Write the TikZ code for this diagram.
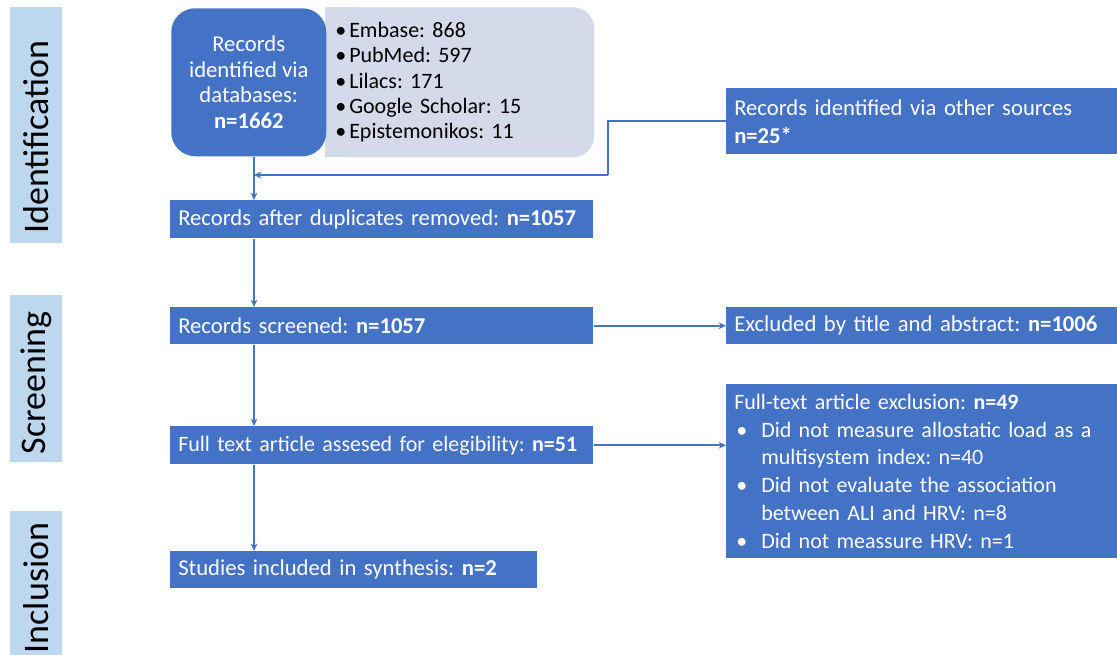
\documentclass[tikz,border=0pt]{standalone}
\usepackage{fontspec}
\setmainfont{Carlito}
\usetikzlibrary{arrows.meta}
\definecolor{prismablue}{HTML}{4472C4}
\definecolor{phaseblue}{HTML}{BDD7EE}
\definecolor{listgrey}{HTML}{D5DAEB}
\frenchspacing

\begin{document}
\begin{tikzpicture}[x=0.75pt,y=-0.75pt]
\tikzstyle{phase}=[fill=phaseblue]
\tikzstyle{phaselabel}=[rotate=90, inner sep=0pt, font=\fontsize{27}{30}\selectfont]
\tikzstyle{bluebox}=[fill=prismablue, text=white, anchor=north west, align=left, inner xsep=6pt, inner ysep=0pt, font=\fontsize{17}{21}\selectfont]
\tikzstyle{flow}=[draw=prismablue, line width=1.5pt, -{Stealth[length=5.5pt,width=5pt]}]
\useasboundingbox (0,0) rectangle (1117,655);

% phase bars
\fill[phase] (10,7) rectangle (62,243);
\fill[phase] (10,295) rectangle (62,462);
\fill[phase] (10,511) rectangle (62,655);
\node[phaselabel] (identlab) at (36,137) {Identification};
\node[phaselabel] (screenlab) at (36,383) {Screening};
\node[phaselabel] (incllab) at (36,588) {Inclusion};

% identification
\fill[listgrey] (325,7) rectangle (360,157);
\node[fill=listgrey, rounded corners=16pt, anchor=north west, align=left, inner xsep=7.5pt, inner ysep=0pt,
      minimum height=112.5pt, text width=186.75pt, font=\fontsize{16.5}{19}\selectfont] (dblist) at (325,7)
  {\makebox[10.5pt][l]{\textbullet}Embase: 868\\
   \makebox[10.5pt][l]{\textbullet}PubMed: 597\\
   \makebox[10.5pt][l]{\textbullet}Lilacs: 171\\
   \makebox[10.5pt][l]{\textbullet}Google Scholar: 15\\
   \makebox[10.5pt][l]{\textbullet}Epistemonikos: 11};
\node[fill=prismablue, text=white, rounded corners=18pt, anchor=north west, align=center, inner sep=0pt,
      minimum width=116.25pt, minimum height=111pt, font=\fontsize{17}{19.3}\selectfont] (db) at (171,8)
  {Records\\identified via\\databases:\\\textbf{n=1662}};
\node[bluebox, text width=281.25pt, minimum height=49.5pt] (other) at (726,88)
  {Records identified via other sources\\\textbf{n=25*}};
\node[bluebox, text width=305.25pt, minimum height=28.5pt] (dedup) at (170,200)
  {Records after duplicates removed: \textbf{n=1057}};

% screening
\node[bluebox, text width=305.25pt, minimum height=27.75pt] (screened) at (170,307)
  {Records screened: \textbf{n=1057}};
\node[bluebox, text width=281.25pt, minimum height=27.75pt] (titleexcl) at (726,307)
  {Excluded by title and abstract: \textbf{n=1006}};
\node[bluebox, text width=305.25pt, minimum height=28.5pt, font=\fontsize{16.5}{21}\selectfont] (fulltext) at (170,426)
  {Full text article assesed for elegibility: \textbf{n=51}};
\node[bluebox, text width=281.25pt, minimum height=130.5pt, font=\fontsize{16.5}{20.8}\selectfont] (fullexcl) at (726,384)
  {Full-text article exclusion: \textbf{n=49}\\
   \hspace*{1.5pt}\makebox[18.75pt][l]{\textbullet}Did not measure allostatic load as a\\
   \hspace*{20.25pt}multisystem index: n=40\\
   \hspace*{1.5pt}\makebox[18.75pt][l]{\textbullet}Did not evaluate the association\\
   \hspace*{20.25pt}between ALI and HRV: n=8\\
   \hspace*{1.5pt}\makebox[18.75pt][l]{\textbullet}Did not meassure HRV: n=1};

% inclusion
\node[bluebox, text width=263.25pt, minimum height=27.75pt] (included) at (170,551)
  {Studies included in synthesis: \textbf{n=2}};

% connectors
\coordinate (spine) at (254,0);
\coordinate (bend) at (608,175);
\coordinate (merge) at (254,175);
\draw[flow] (spine |- db.south) -- (spine |- dedup.north);
\draw[flow, -] (other.west) -| (bend);
\draw[flow] (bend) -- (merge);
\draw[flow] (spine |- dedup.south) -- (spine |- screened.north);
\draw[flow] (screened.east) -- (titleexcl.west);
\draw[flow] (spine |- screened.south) -- (spine |- fulltext.north);
\draw[flow] (fulltext.east) -- (fulltext.east -| fullexcl.west);
\draw[flow] (spine |- fulltext.south) -- (spine |- included.north);
\end{tikzpicture}
\end{document}
